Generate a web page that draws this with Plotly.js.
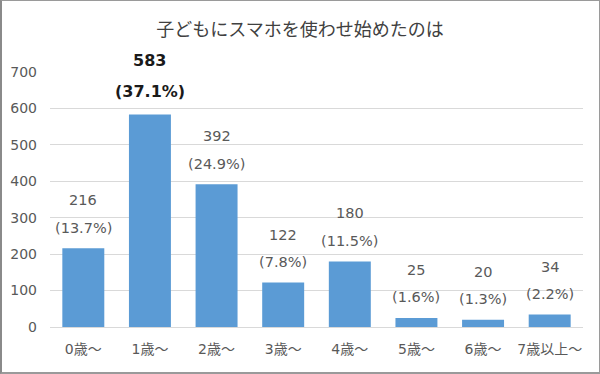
<!DOCTYPE html>
<html>
<head>
<meta charset="utf-8">
<script src="https://cdn.plot.ly/plotly-3.0.1.min.js"></script>
<style>
  html, body { margin: 0; padding: 0; background: #fff; }
  #wrap { position: relative; width: 600px; height: 374px; }
  #chart { width: 600px; height: 374px; }
  #frame { position: absolute; left: 0; top: 0; width: 600px; height: 374px; box-sizing: border-box;
           border: 1px solid #9a9a9a; border-left: 2px solid #8a8a8a; border-bottom: 2px solid #9a9a9a;
           pointer-events: none; }
</style>
</head>
<body>
<div id="wrap">
  <div id="chart"></div>
  <div id="frame"></div>
</div>
<script>
const categories = ["0歳〜", "1歳〜", "2歳〜", "3歳〜", "4歳〜", "5歳〜", "6歳〜", "7歳以上〜"];
const counts = [216, 583, 392, 122, 180, 25, 20, 34];
const percentLabels = ["(13.7%)", "(37.1%)", "(24.9%)", "(7.8%)", "(11.5%)", "(1.6%)", "(1.3%)", "(2.2%)"];
const yTickValues = [0, 100, 200, 300, 400, 500, 600, 700];
const highlightIndex = 1;

const latin = "DejaVu Sans, 'Noto Sans CJK JP', sans-serif";
const gray = "#595959";

const annotations = [];
categories.forEach((c, i) => {
  const hi = i === highlightIndex;
  const font = hi ? {family: latin, size: 16, color: "#1a1a1a", weight: "bold"}
                  : {family: latin, size: 14.5, color: gray};
  annotations.push({x: c, y: counts[i], xref: "x", yref: "y", text: hi ? "<b>" + counts[i] + "</b>" : String(counts[i]),
    showarrow: false, yanchor: "middle", yshift: hi ? 54 : 48, font: font});
  annotations.push({x: c, y: counts[i], xref: "x", yref: "y", text: hi ? "<b>" + percentLabels[i] + "</b>" : percentLabels[i],
    showarrow: false, yanchor: "middle", yshift: hi ? 23 : 20.5, font: font});
});

const data = [{
  type: "bar",
  x: categories,
  y: counts,
  marker: {color: "#5b9bd5"},
  hoverinfo: "none"
}];

const layout = {
  width: 600, height: 374,
  margin: {l: 50, r: 17, t: 72, b: 47, pad: 0},
  paper_bgcolor: "#fff", plot_bgcolor: "#fff",
  bargap: 0.37,
  showlegend: false,
  title: {
    text: "子どもにスマホを使わせ始めたのは",
    font: {family: "'Noto Sans CJK JP', sans-serif", size: 18, color: "#404040"},
    x: 0.5, xref: "container", xanchor: "center",
    y: 1 - 30 / 374, yref: "container", yanchor: "middle"
  },
  xaxis: {
    type: "category",
    tickfont: {family: latin, size: 14, color: gray},
    showgrid: false, showline: false, ticks: "",
    ticklabelstandoff: 12,
    fixedrange: true
  },
  yaxis: {
    range: [0, 700],
    tickvals: yTickValues,
    ticktext: yTickValues.map(String),
    tickfont: {family: latin, size: 14, color: gray},
    showgrid: true, gridcolor: "#d9d9d9", gridwidth: 1,
    zeroline: true, zerolinecolor: "#d9d9d9", zerolinewidth: 1,
    showline: false, ticks: "",
    ticklabelstandoff: 12,
    fixedrange: true
  },
  annotations: annotations
};

Plotly.newPlot("chart", data, layout, {displayModeBar: false, staticPlot: true});
</script>
</body>
</html>
